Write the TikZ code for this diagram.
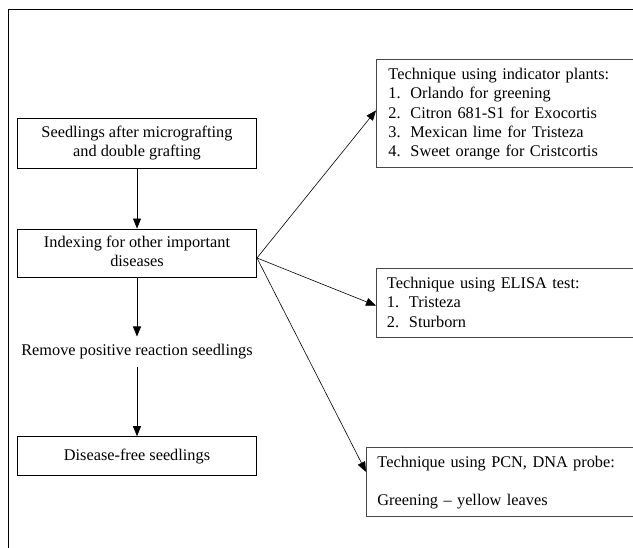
\documentclass[tikz,border=0pt]{standalone}
\usepackage{fontspec}
\setmainfont{Liberation Serif}
\usetikzlibrary{arrows.meta}
\newcommand{\toprule}{\rule{0pt}{20pt}}
\newcommand{\botrule}{\rule[-10.8pt]{0pt}{10.8pt}}
\newcommand{\num}[1]{\makebox[22pt][l]{#1}}
\begin{document}
\begin{tikzpicture}[x=1pt,y=-1pt,
  every node/.style={font=\fontsize{16.3}{19.3}\selectfont},
  lbox/.style={draw=black, line width=0.9pt, minimum width=239pt, align=center, inner sep=0pt},
  rbox/.style={draw=black!72, line width=0.9pt, anchor=north west, align=left, inner xsep=11pt, inner ysep=0pt, text width=300pt},
  arr/.style={line width=0.6pt, -{Triangle[length=10pt,width=8pt]}},
  frame/.style={line width=1pt}]
\useasboundingbox (0,0) rectangle (633,548);
\clip (0,0) rectangle (633,548);
\draw[frame] (8,560) -- (8,10) -- (650,10);
\node[lbox, minimum height=50pt] (b1) at (137,143.3) {\strut Seedlings after micrografting\\and double grafting\strut};
\node[lbox, minimum height=48pt] (b2) at (137,253) {\strut Indexing for other important\\diseases\strut};
\node[minimum height=30pt, inner sep=0pt] (rm) at (137,351.7) {Remove positive reaction seedlings};
\node[lbox, minimum height=39.3pt] (b4) at (137,456.3) {Disease-free seedlings};
\node[rbox, inner xsep=12pt] (r1) at (376,59) {\toprule Technique using indicator plants:\\
\num{1.}Orlando for greening\\
\num{2.}Citron 681-S1 for Exocortis\\
\num{3.}Mexican lime for Tristeza\\
\num{4.}Sweet orange for Cristcortis\botrule};
\node[rbox, inner xsep=10.5pt] (r2) at (376,268) {\toprule Technique using ELISA test:\\
\num{1.}Tristeza\\
\num{2.}Sturborn\botrule};
\node[rbox] (r3) at (366,446.7) {\toprule Technique using PCN, DNA probe:\\[19.3pt]
Greening -- yellow leaves\botrule};
\coordinate (src) at ([yshift=-5pt]b2.east);
\draw[arr] (b1) -- (b2);
\draw[arr] (b2) -- (rm);
\draw[arr] (rm) -- (b4);
\draw[arr] (src) -- ([yshift=3pt]r1.west);
\draw[arr] (src) -- ([yshift=-2.5pt]r2.west);
\draw[arr] (src) -- ([yshift=10pt]r3.west);
\end{tikzpicture}
\end{document}
